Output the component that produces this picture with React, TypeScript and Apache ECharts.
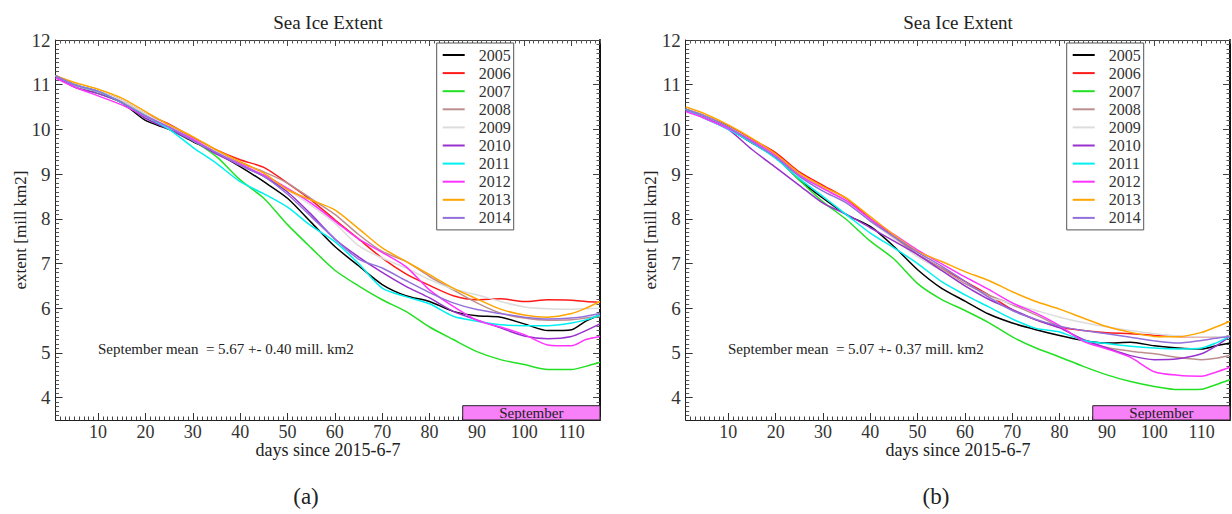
import React, { useEffect, useRef } from "react";
import * as echarts from "echarts";

// ---- data ----
const days = [1, 5, 10, 15, 20, 25, 30, 35, 40, 45, 50, 55, 60, 65, 70, 75, 80, 85, 90, 95, 100, 105, 110, 113, 116];
const years = ["2005", "2006", "2007", "2008", "2009", "2010", "2011", "2012", "2013", "2014"];
const yearColors = ["#000000", "#ff1a1a", "#22e022", "#bc8f8f", "#dcdcdc", "#9932cc", "#00f0f0", "#ff33ff", "#ffa500", "#9370db"];

// panel (a)
const a2005 = [11.2, 11.0, 10.85, 10.6, 10.2, 10.0, 9.73, 9.47, 9.17, 8.83, 8.46, 7.92, 7.38, 6.95, 6.53, 6.28, 6.15, 5.93, 5.83, 5.8, 5.65, 5.5, 5.52, 5.71, 5.85];
const a2006 = [11.2, 11.0, 10.85, 10.65, 10.35, 10.12, 9.82, 9.54, 9.32, 9.15, 8.8, 8.42, 7.98, 7.55, 7.12, 6.77, 6.51, 6.28, 6.19, 6.21, 6.15, 6.19, 6.18, 6.15, 6.13];
const a2007 = [11.2, 10.95, 10.8, 10.6, 10.3, 10.0, 9.75, 9.39, 8.87, 8.46, 7.87, 7.35, 6.85, 6.5, 6.19, 5.93, 5.58, 5.3, 5.03, 4.85, 4.74, 4.63, 4.63, 4.7, 4.79];
const a2008 = [11.2, 11.0, 10.85, 10.65, 10.35, 10.1, 9.8, 9.5, 9.25, 9.05, 8.8, 8.45, 8.1, 7.65, 7.27, 7.05, 6.71, 6.41, 6.12, 5.89, 5.78, 5.73, 5.74, 5.78, 5.82];
const a2009 = [11.2, 11.0, 10.85, 10.65, 10.35, 10.05, 9.78, 9.5, 9.2, 8.95, 8.65, 8.3, 7.9, 7.4, 7.12, 6.9, 6.64, 6.43, 6.3, 6.15, 6.03, 5.99, 5.98, 5.99, 6.0];
const a2010 = [11.2, 10.95, 10.8, 10.6, 10.25, 10.0, 9.75, 9.45, 9.2, 8.95, 8.6, 8.1, 7.55, 7.15, 6.8, 6.49, 6.23, 5.93, 5.74, 5.56, 5.38, 5.32, 5.37, 5.5, 5.65];
const a2011 = [11.2, 11.0, 10.85, 10.6, 10.3, 10.0, 9.6, 9.24, 8.83, 8.56, 8.26, 7.84, 7.49, 7.0, 6.45, 6.26, 6.1, 5.82, 5.71, 5.63, 5.61, 5.61, 5.67, 5.74, 5.85];
const a2012 = [11.15, 10.95, 10.75, 10.55, 10.3, 10.05, 9.78, 9.48, 9.22, 8.98, 8.68, 8.35, 7.95, 7.55, 7.25, 6.93, 6.41, 6.04, 5.73, 5.58, 5.41, 5.18, 5.16, 5.3, 5.37];
const a2013 = [11.2, 11.05, 10.9, 10.7, 10.4, 10.1, 9.84, 9.54, 9.28, 9.02, 8.65, 8.42, 8.2, 7.78, 7.35, 7.05, 6.75, 6.45, 6.21, 5.98, 5.85, 5.8, 5.88, 6.0, 6.15];
const a2014 = [11.2, 11.0, 10.85, 10.6, 10.3, 10.05, 9.75, 9.48, 9.2, 8.95, 8.55, 8.05, 7.55, 7.1, 6.9, 6.62, 6.35, 6.12, 5.97, 5.88, 5.8, 5.76, 5.78, 5.82, 5.88];

// panel (b)
const b2005 = [10.45, 10.28, 10.02, 9.7, 9.38, 8.87, 8.46, 8.09, 7.83, 7.38, 6.86, 6.45, 6.16, 5.87, 5.67, 5.52, 5.39, 5.28, 5.22, 5.24, 5.16, 5.11, 5.09, 5.16, 5.22];
const b2006 = [10.45, 10.3, 10.08, 9.78, 9.48, 9.05, 8.75, 8.45, 8.0, 7.6, 7.2, 6.9, 6.6, 6.3, 5.97, 5.74, 5.58, 5.5, 5.45, 5.43, 5.39, 5.37, 5.36, 5.36, 5.36];
const b2007 = [10.45, 10.3, 10.05, 9.72, 9.4, 8.87, 8.38, 7.98, 7.5, 7.1, 6.55, 6.2, 5.95, 5.68, 5.36, 5.11, 4.91, 4.7, 4.51, 4.36, 4.25, 4.18, 4.19, 4.29, 4.4];
const b2008 = [10.45, 10.3, 10.05, 9.75, 9.4, 8.98, 8.68, 8.38, 7.97, 7.58, 7.2, 6.9, 6.55, 6.3, 6.08, 5.85, 5.58, 5.28, 5.12, 5.04, 4.98, 4.9, 4.85, 4.88, 4.95];
const b2009 = [10.45, 10.3, 10.05, 9.75, 9.4, 8.98, 8.68, 8.38, 7.95, 7.55, 7.15, 6.85, 6.5, 6.25, 6.1, 5.95, 5.8, 5.68, 5.58, 5.5, 5.43, 5.38, 5.36, 5.36, 5.38];
const b2010 = [10.45, 10.25, 10.0, 9.55, 9.15, 8.75, 8.35, 8.1, 7.8, 7.5, 7.2, 6.85, 6.5, 6.2, 5.97, 5.74, 5.56, 5.3, 5.11, 4.94, 4.85, 4.87, 4.98, 5.15, 5.37];
const b2011 = [10.45, 10.25, 10.0, 9.7, 9.35, 8.9, 8.5, 8.09, 7.68, 7.35, 7.0, 6.6, 6.3, 6.03, 5.76, 5.55, 5.47, 5.28, 5.21, 5.15, 5.11, 5.09, 5.11, 5.22, 5.37];
const b2012 = [10.4, 10.25, 10.02, 9.75, 9.42, 8.98, 8.68, 8.4, 8.0, 7.65, 7.3, 7.0, 6.7, 6.42, 6.12, 5.89, 5.61, 5.26, 5.09, 4.9, 4.58, 4.5, 4.48, 4.57, 4.68];
const b2013 = [10.5, 10.35, 10.1, 9.8, 9.45, 9.02, 8.72, 8.46, 8.05, 7.64, 7.27, 7.05, 6.82, 6.62, 6.37, 6.15, 5.98, 5.78, 5.59, 5.46, 5.37, 5.36, 5.46, 5.58, 5.71];
const b2014 = [10.45, 10.3, 10.05, 9.72, 9.38, 8.95, 8.62, 8.35, 7.95, 7.6, 7.25, 6.95, 6.6, 6.25, 5.95, 5.75, 5.6, 5.5, 5.43, 5.35, 5.27, 5.22, 5.28, 5.33, 5.37];

const panelASeries = [a2005, a2006, a2007, a2008, a2009, a2010, a2011, a2012, a2013, a2014];
const panelBSeries = [b2005, b2006, b2007, b2008, b2009, b2010, b2011, b2012, b2013, b2014];

const xTickLabels = [10, 20, 30, 40, 50, 60, 70, 80, 90, 100, 110];
const yTickLabels = [4, 5, 6, 7, 8, 9, 10, 11, 12];
const xMin = 1;
const xMax = 116;
const yMin = 3.5;
const yMax = 12;
const septemberStart = 87;
const septemberTop = 3.82;
const meanTextA = "September mean  = 5.67 +- 0.40 mill. km2";
const meanTextB = "September mean  = 5.07 +- 0.37 mill. km2";

const FONT = "Liberation Serif";

function range(from: number, to: number, step: number): number[] {
  const out: number[] = [];
  for (let v = from; v <= to + 1e-9; v += step) out.push(Math.round(v * 100) / 100);
  return out;
}
const xMinorTicks = range(2, 116, 1).filter((v) => v % 10 !== 0);
const yMinorTicks = range(3.6, 11.9, 0.1).filter((v) => Math.abs(v - Math.round(v)) > 1e-6);

function xAxesFor(grid: number) {
  const base = { type: "value", gridIndex: grid, min: xMin, max: xMax, splitLine: { show: false } };
  return [
    {
      ...base,
      position: "bottom",
      axisLine: { show: true, onZero: false, lineStyle: { color: "#222", width: 1 } },
      axisTick: { show: true, inside: true, length: 7, customValues: xTickLabels, lineStyle: { color: "#333" } },
      axisLabel: { show: true, customValues: xTickLabels, margin: 3, fontSize: 18, fontFamily: FONT, color: "#333" },
    },
    {
      ...base,
      position: "bottom",
      axisLine: { show: false, onZero: false },
      axisTick: { show: true, inside: true, length: 3.5, customValues: xMinorTicks, lineStyle: { color: "#444" } },
      axisLabel: { show: false },
    },
    {
      ...base,
      position: "top",
      axisLine: { show: true, onZero: false, lineStyle: { color: "#444", width: 1 } },
      axisTick: { show: true, inside: true, length: 6, customValues: xTickLabels, lineStyle: { color: "#444" } },
      axisLabel: { show: false },
    },
    {
      ...base,
      position: "top",
      axisLine: { show: false, onZero: false },
      axisTick: { show: true, inside: true, length: 3.5, customValues: xMinorTicks, lineStyle: { color: "#555" } },
      axisLabel: { show: false },
    },
  ];
}

function yAxesFor(grid: number) {
  const base = { type: "value", gridIndex: grid, min: yMin, max: yMax, splitLine: { show: false } };
  return [
    {
      ...base,
      position: "left",
      axisLine: { show: true, onZero: false, lineStyle: { color: "#222", width: 1 } },
      axisTick: { show: true, inside: true, length: 7, customValues: yTickLabels, lineStyle: { color: "#333" } },
      axisLabel: { show: true, customValues: yTickLabels, margin: 5, fontSize: 19, fontFamily: FONT, color: "#333" },
    },
    {
      ...base,
      position: "left",
      axisLine: { show: false, onZero: false },
      axisTick: { show: true, inside: true, length: 3.5, customValues: yMinorTicks, lineStyle: { color: "#555" } },
      axisLabel: { show: false },
    },
    {
      ...base,
      position: "right",
      axisLine: { show: true, onZero: false, lineStyle: { color: "#111", width: 2 } },
      axisTick: { show: true, inside: true, length: 7, customValues: yTickLabels, lineStyle: { color: "#444" } },
      axisLabel: { show: false },
    },
    {
      ...base,
      position: "right",
      axisLine: { show: false, onZero: false },
      axisTick: { show: true, inside: true, length: 3.5, customValues: yMinorTicks, lineStyle: { color: "#555" } },
      axisLabel: { show: false },
    },
  ];
}

function seriesFor(panel: number, values: number[][]) {
  return values.map((vals, i) => {
    const s: any = {
      type: "line",
      name: years[i],
      xAxisIndex: panel * 4,
      yAxisIndex: panel * 4,
      data: days.map((d, k) => [d, vals[k]]),
      symbol: "none",
      smooth: 0.25,
      lineStyle: { color: yearColors[i], width: 1.5 },
      itemStyle: { color: yearColors[i] },
    };
    if (i === 0) {
      s.markArea = {
        silent: true,
        itemStyle: { color: "#f77ff7", borderColor: "#222", borderWidth: 1, opacity: 1 },
        label: { show: true, position: "inside", color: "#222", fontSize: 15, fontFamily: FONT },
        data: [[{ xAxis: septemberStart, yAxis: yMin, name: "September" }, { xAxis: xMax, yAxis: septemberTop }]],
      };
    }
    return s;
  });
}

function legendAt(left: number) {
  return {
    data: years.map((y) => ({ name: y, icon: "rect" })),
    orient: "vertical",
    left,
    top: 43,
    padding: [4, 3, 4, 6],
    itemWidth: 22,
    itemHeight: 2,
    itemGap: 2.1,
    backgroundColor: "#fff",
    borderColor: "#555",
    borderWidth: 1,
    selectedMode: false,
    textStyle: { fontFamily: FONT, fontSize: 16, color: "#333", lineHeight: 14, padding: [0, 0, 0, 9] },
  };
}

function txt(text: string, x: number, y: number, size: number, align = "center", rotation = 0) {
  return {
    type: "text",
    x,
    y,
    rotation,
    style: {
      text,
      fill: "#222",
      fontSize: size,
      fontFamily: FONT,
      align,
      textAlign: align,
      verticalAlign: "middle",
      textVerticalAlign: "middle",
    },
  };
}

export default function App() {
  const ref = useRef<HTMLDivElement>(null);
  useEffect(() => {
    if (!ref.current) return;
    const chart = echarts.init(ref.current, undefined, { renderer: "svg" });
    const option: any = {
      animation: false,
      backgroundColor: "#fff",
      grid: [
        { left: 55.5, top: 40, width: 544.5, height: 380 },
        { left: 685.7, top: 40, width: 544.3, height: 380 },
      ],
      xAxis: [...xAxesFor(0), ...xAxesFor(1)],
      yAxis: [...yAxesFor(0), ...yAxesFor(1)],
      legend: [legendAt(436.7), legendAt(1066.7)],
      series: [...seriesFor(0, panelASeries), ...seriesFor(1, panelBSeries)],
      graphic: [
        txt("Sea Ice Extent", 328, 22, 19),
        txt("Sea Ice Extent", 958, 22, 19),
        txt("extent [mill km2]", 20, 230, 17, "center", Math.PI / 2),
        txt("extent [mill km2]", 650, 230, 17, "center", Math.PI / 2),
        txt("days since 2015-6-7", 328, 450, 18),
        txt("days since 2015-6-7", 958, 450, 18),
        txt(meanTextA, 98, 349, 15, "left"),
        txt(meanTextB, 728, 349, 15, "left"),
        txt("(a)", 306, 496, 23),
        txt("(b)", 936, 496, 23),
      ],
    };
    chart.setOption(option);
    return () => chart.dispose();
  }, []);
  return <div ref={ref} style={{ position: "absolute", left: 0, top: 0, width: 1232, height: 514 }} />;
}
